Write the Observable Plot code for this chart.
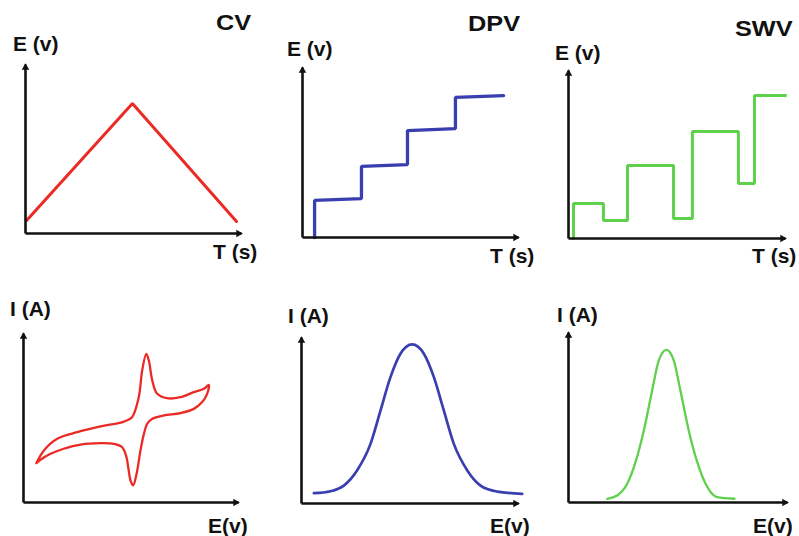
<!DOCTYPE html>
<html><head><meta charset="utf-8">
<script src="https://cdn.jsdelivr.net/npm/d3@7"></script>
<script src="https://cdn.jsdelivr.net/npm/@observablehq/plot@0.6"></script>
<style>
html,body{margin:0;padding:0;background:#fff;}
#chart{position:relative;width:799px;height:536px;overflow:hidden;background:#fff;}
.lbl{position:absolute;font-family:"Liberation Sans",Arial,sans-serif;font-weight:bold;color:#111;line-height:1;white-space:nowrap;transform-origin:0 0;}
</style></head><body><div id="chart"></div>
<script>
// ---- text ----
const titles = ["CV", "DPV", "SWV"];
const topAxisLabels = ["E (v)", "T (s)"];
const bottomAxisLabels = ["I (A)", "E(v)"];

// ---- waveforms (x: time, y: potential; arbitrary units 0..10) ----
const cvTime = [0.05, 4.95, 9.77];
const cvPotential = [0.77, 7.69, 0.71];

const dpvTime = [0.56, 0.56, 2.73, 2.73, 4.86, 4.86, 7.08, 7.08, 9.31];
const dpvPotential = [0, 2.18, 2.29, 4.18, 4.29, 6.29, 6.41, 8.24, 8.35];

const swvTime = [0.23, 0.23, 1.61, 1.61, 2.72, 2.72, 4.84, 4.84, 5.71, 5.71, 7.83, 7.83, 8.57, 8.57, 10];
const swvPotential = [0, 2.08, 2.08, 1.07, 1.07, 4.35, 4.35, 1.19, 1.19, 6.37, 6.37, 3.27, 3.27, 8.51, 8.51];

// ---- voltammograms (x: potential, y: current; arbitrary units 0..10) ----
const cvE = [0.60, 0.95, 1.57, 2.50, 3.58, 4.67, 5.05, 5.36, 5.52, 5.71, 5.83, 5.99, 6.22, 6.68, 7.30, 7.92, 8.39, 8.62,
             8.54, 8.31, 7.92, 7.30, 6.53, 5.99, 5.75, 5.60, 5.44, 5.26, 5.10, 4.98, 4.87, 4.79, 4.59, 4.20, 3.58, 2.65, 1.87, 1.26, 0.79, 0.60];
const cvI = [2.33, 3.08, 3.77, 4.16, 4.50, 4.79, 5.05, 6.23, 7.81, 8.80, 8.40, 7.22, 6.43, 6.17, 6.23, 6.53, 6.73, 6.96,
             6.43, 5.94, 5.54, 5.29, 5.15, 4.95, 4.65, 4.06, 3.08, 1.70, 1.01, 1.30, 2.09, 2.68, 3.27, 3.47, 3.51, 3.43, 3.18, 2.88, 2.53, 2.33];

const dpvE = [0.57, 1.34, 1.95, 2.56, 3.18, 3.64, 4.10, 4.56, 5.10, 5.64, 6.10, 6.56, 7.02, 7.64, 8.25, 9.02, 10.17];
const dpvI = [0.62, 0.74, 1.08, 1.99, 3.59, 5.60, 7.61, 9.02, 9.58, 9.02, 7.61, 5.60, 3.59, 1.99, 1.08, 0.72, 0.58];

const swvE = [1.77, 2.22, 2.68, 3.06, 3.44, 3.82, 4.12, 4.47, 4.81, 5.11, 5.49, 5.88, 6.26, 6.79, 7.58];
const swvI = [0.22, 0.41, 1.10, 2.37, 4.24, 6.59, 8.35, 8.98, 8.35, 6.59, 4.24, 2.37, 1.10, 0.31, 0.22];

const colors = {cv: "#ec2a25", dpv: "#3a3fb0", swv: "#5fd04c"};

const chart = document.getElementById("chart");
const table = (xs, ys) => xs.map((x, i) => ({x, y: ys[i]}));
const axisLines = [{x1: 0, y1: 0, x2: 10, y2: 0}, {x1: 0, y1: 0, x2: 0, y2: 10}];
const axisHeads = [{x: 10, y: 0, angle: 90}, {x: 0, y: 10, angle: 0}];

function panel(box, data, color, width, curve) {
  const m = 16;
  const w = box.xe - box.ox + 2 * m, h = box.oy - box.yt + 2 * m;
  const svg = Plot.plot({
    width: w, height: h, margin: m,
    x: {domain: [0, 10], axis: null},
    y: {domain: [0, 10], axis: null},
    style: {background: "transparent", overflow: "visible"},
    marks: [
      Plot.line(data, {x: "x", y: "y", stroke: color, strokeWidth: width, curve, strokeLinejoin: "miter", clip: false}),
      Plot.link(axisLines, {x1: "x1", y1: "y1", x2: "x2", y2: "y2", stroke: "#111", strokeWidth: 2.6, strokeLinecap: "butt"}),
      Plot.dot([axisHeads[0]], {x: "x", y: "y", rotate: "angle", symbol: "triangle", fill: "#111", r: 2.8, dx: -3}),
      Plot.dot([axisHeads[1]], {x: "x", y: "y", rotate: "angle", symbol: "triangle", fill: "#111", r: 2.8, dy: 3})
    ]
  });
  svg.style.position = "absolute";
  svg.style.left = (box.ox - m) + "px";
  svg.style.top = (box.yt - m) + "px";
  chart.appendChild(svg);
}

panel({ox: 25, oy: 233, xe: 241, yt: 64}, table(cvTime, cvPotential), colors.cv, 3, "linear");
panel({ox: 302, oy: 237, xe: 518, yt: 67}, table(dpvTime, dpvPotential), colors.dpv, 3.3, "linear");
panel({ox: 568, oy: 238, xe: 785, yt: 70}, table(swvTime, swvPotential), colors.swv, 3, "linear");
panel({ox: 23, oy: 502, xe: 238, yt: 333}, table(cvE, cvI), colors.cv, 2.3, "catmull-rom");
panel({ox: 301, oy: 503, xe: 518, yt: 337}, table(dpvE, dpvI), colors.dpv, 2.7, "monotone-x");
panel({ox: 568, oy: 502, xe: 787, yt: 332}, table(swvE, swvI), colors.swv, 2.3, "monotone-x");

function label(text, left, baseline, size, sx) {
  const d = document.createElement("div");
  d.className = "lbl";
  d.textContent = text;
  d.style.fontSize = size + "px";
  d.style.left = left + "px";
  d.style.top = (baseline - 0.8465 * size) + "px";
  if (sx) d.style.transform = `scaleX(${sx})`;
  chart.appendChild(d);
}
label(titles[0], 216, 31, 22, 1.15);
label(titles[1], 468, 32, 22, 1.15);
label(titles[2], 735, 37, 22, 1.15);
label(topAxisLabels[0], 13, 51, 21);
label(topAxisLabels[1], 213, 259, 21);
label(topAxisLabels[0], 287, 56, 21);
label(topAxisLabels[1], 490, 263, 21);
label(topAxisLabels[0], 555, 60, 21);
label(topAxisLabels[1], 752, 263, 21);
label(bottomAxisLabels[0], 10, 316, 21);
label(bottomAxisLabels[1], 208, 533, 21);
label(bottomAxisLabels[0], 288, 323, 21);
label(bottomAxisLabels[1], 490, 533, 21);
label(bottomAxisLabels[0], 557, 322, 21);
label(bottomAxisLabels[1], 753, 533, 21);
</script></body></html>
